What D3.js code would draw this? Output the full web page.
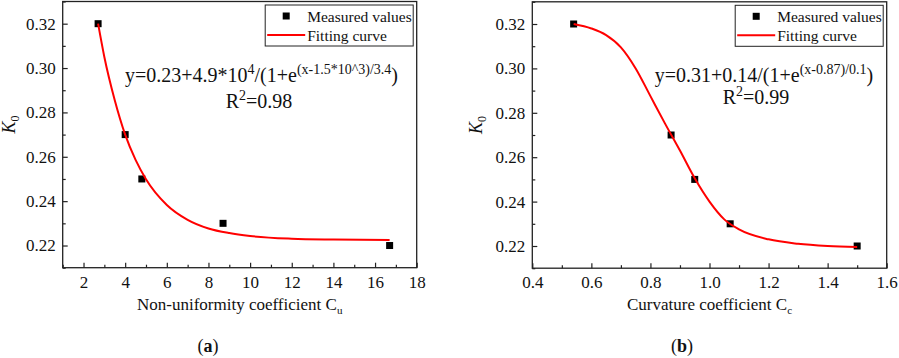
<!DOCTYPE html>
<html>
<head>
<meta charset="utf-8">
<script src="https://cdn.jsdelivr.net/npm/d3@7"></script>
<style>
  body { margin: 0; background: #fff; }
  svg text { font-family: "Times New Roman", "Liberation Serif", "DejaVu Serif", serif; }
  .axis path.domain { display: none; }
  .axis line { stroke: #222; stroke-width: 1.2; }
  .axis text { font-size: 17px; fill: #111; }
</style>
</head>
<body>
<div id="chart"></div>
<script>
// panel (a): K0 vs non-uniformity coefficient Cu
var cuValues = [2.7, 4.0, 4.8, 8.7, 16.7];
var cuK0 = [0.32, 0.27, 0.25, 0.23, 0.22];
var cuFitX = [2.7, 3, 3.5, 4, 4.5, 5, 6, 7, 8, 9, 10, 12, 14, 16.7];
var cuFitY = [0.32, 0.305, 0.2855, 0.27, 0.2586, 0.2499, 0.2383, 0.2316, 0.2277, 0.2256, 0.2243, 0.2231, 0.2227, 0.2225];
var cuTicks = [2, 4, 6, 8, 10, 12, 14, 16, 18];

// panel (b): K0 vs curvature coefficient Cc
var ccValues = [0.54, 0.87, 0.95, 1.07, 1.50];
var ccK0 = [0.32, 0.27, 0.25, 0.23, 0.22];
var ccFitX = [0.54, 0.6, 0.65, 0.7, 0.75, 0.8, 0.85, 0.9, 0.95, 1.0, 1.05, 1.1, 1.2, 1.3, 1.4, 1.5];
var ccFitY = [0.32, 0.318, 0.315, 0.3095, 0.3, 0.2875, 0.275, 0.263, 0.2505, 0.24, 0.232, 0.2275, 0.223, 0.221, 0.22, 0.2195];
var ccTicks = [0.4, 0.6, 0.8, 1.0, 1.2, 1.4, 1.6];

var k0Ticks = [0.22, 0.24, 0.26, 0.28, 0.30, 0.32];
var legendLabels = ["Measured values", "Fitting curve"];

var w = 899, h = 358;
var serif = "Times New Roman, Liberation Serif, DejaVu Serif, serif";

var svg = d3.select("#chart")
  .append("svg")
  .attr("width", w)
  .attr("height", h)
  .style("display", "block");

function panel(opt) {
  var xScale = d3.scaleLinear().domain(opt.xDomain).range([opt.left, opt.right]);
  var yScale = d3.scaleLinear().domain([0.21, 0.33]).range([opt.bottom, opt.top]);
  var g = svg.append("g");

  // minor ticks
  var xMinor = [];
  for (var i = 0; i < opt.xTicks.length - 1; i++) xMinor.push((opt.xTicks[i] + opt.xTicks[i + 1]) / 2);
  xMinor.unshift(opt.xTicks[0] - (opt.xTicks[1] - opt.xTicks[0]) / 2);
  xMinor = xMinor.filter(function(v) { return v >= opt.xDomain[0] && v <= opt.xDomain[1]; });
  var yMinor = [0.21, 0.23, 0.25, 0.27, 0.29, 0.31, 0.33];

  g.append("g")
    .attr("class", "axis")
    .attr("transform", "translate(0," + opt.bottom + ")")
    .call(d3.axisBottom(xScale).tickValues(xMinor).tickSize(-3).tickFormat(""));
  g.append("g")
    .attr("class", "axis")
    .attr("transform", "translate(" + opt.left + ",0)")
    .call(d3.axisLeft(yScale).tickValues(yMinor).tickSize(-3).tickFormat(""));

  g.append("g")
    .attr("class", "axis")
    .attr("transform", "translate(0," + opt.bottom + ")")
    .call(d3.axisBottom(xScale).tickValues(opt.xTicks).tickSize(-5).tickPadding(8).tickFormat(opt.xFormat))
    .attr("font-family", serif);
  g.append("g")
    .attr("class", "axis")
    .attr("transform", "translate(" + opt.left + ",0)")
    .call(d3.axisLeft(yScale).tickValues(k0Ticks).tickSize(-5).tickPadding(7).tickFormat(d3.format(".2f")))
    .attr("font-family", serif);

  // frame
  g.append("rect")
    .attr("x", opt.left)
    .attr("y", opt.top)
    .attr("width", opt.right - opt.left)
    .attr("height", opt.bottom - opt.top)
    .attr("fill", "none")
    .attr("stroke", "#222")
    .attr("stroke-width", 1.3);

  // points
  g.selectAll("rect.pt")
    .data(opt.xs)
    .enter()
    .append("rect")
    .attr("class", "pt")
    .attr("x", function(d) { return xScale(d) - 3.5; })
    .attr("y", function(d, i) { return yScale(opt.ys[i]) - 3.5; })
    .attr("width", 7)
    .attr("height", 7)
    .attr("fill", "#000");

  // fitting curve
  var line = d3.line()
    .x(function(d) { return xScale(d); })
    .y(function(d, i) { return yScale(opt.fitY[i]); })
    .curve(d3.curveMonotoneX);
  g.append("path")
    .datum(opt.fitX)
    .attr("d", line)
    .attr("fill", "none")
    .attr("stroke", "#f00")
    .attr("stroke-width", 2);

  // legend
  var lx = opt.right - 3.5 - 148, ly = opt.top + 3.5;
  g.append("rect")
    .attr("x", lx).attr("y", ly)
    .attr("width", 148).attr("height", 41)
    .attr("fill", "#fff")
    .attr("stroke", "#222")
    .attr("stroke-width", 1);
  g.append("rect")
    .attr("x", lx + 21 - 3.5).attr("y", ly + 11 - 3.5)
    .attr("width", 7).attr("height", 7)
    .attr("fill", "#000");
  g.append("line")
    .attr("x1", lx + 2).attr("x2", lx + 40)
    .attr("y1", ly + 30).attr("y2", ly + 30)
    .attr("stroke", "#f00")
    .attr("stroke-width", 2);
  g.selectAll("text.leg")
    .data(legendLabels)
    .enter()
    .append("text")
    .attr("class", "leg")
    .attr("x", lx + 42)
    .attr("y", function(d, i) { return ly + 16.5 + i * 19; })
    .attr("font-size", 15.5)
    .attr("fill", "#111")
    .text(function(d) { return d; });

  // equation
  var eq = g.append("text")
    .attr("x", opt.eqX)
    .attr("y", opt.eqY)
    .attr("text-anchor", "middle")
    .attr("font-size", 20)
    .attr("fill", "#111");
  opt.eqParts.forEach(function(p) {
    var t = eq.append("tspan").text(p[0]);
    if (p[1]) t.attr("font-size", 14).attr("dy", -8);
    else t.attr("dy", p[2] ? 8 : 0);
  });
  var r2 = g.append("text")
    .attr("x", opt.r2X)
    .attr("y", opt.r2Y)
    .attr("text-anchor", "middle")
    .attr("font-size", 20)
    .attr("fill", "#111");
  r2.append("tspan").text("R");
  r2.append("tspan").text("2").attr("font-size", 14).attr("dy", -8);
  r2.append("tspan").text("=" + opt.r2).attr("dy", 8);

  // y-axis label
  var yl = g.append("text")
    .attr("transform", "translate(" + opt.yLabelX + "," + ((opt.top + opt.bottom) / 2 - 10) + ") rotate(-90)")
    .attr("text-anchor", "middle")
    .attr("font-size", 18)
    .attr("fill", "#111");
  yl.append("tspan").attr("font-style", "italic").text("K");
  yl.append("tspan").attr("font-size", 12).attr("dy", 4).text("0");

  // x-axis label
  var xl = g.append("text")
    .attr("x", (opt.left + opt.right) / 2)
    .attr("y", 310)
    .attr("text-anchor", "middle")
    .attr("font-size", 17)
    .attr("fill", "#111");
  xl.append("tspan").text(opt.xLabel);
  xl.append("tspan").attr("font-size", 11).attr("dy", 4).text(opt.xSub);

  // panel tag
  var tag = g.append("text")
    .attr("x", opt.tagX)
    .attr("y", 352)
    .attr("text-anchor", "middle")
    .attr("font-size", 18)
    .attr("fill", "#111");
  tag.append("tspan").text("(");
  tag.append("tspan").attr("font-weight", "bold").text(opt.tag);
  tag.append("tspan").text(")");
}

panel({
  left: 62.7, right: 416.7, top: 1.5, bottom: 267.7,
  xDomain: [1, 18], xTicks: cuTicks, xFormat: d3.format("d"),
  xs: cuValues, ys: cuK0, fitX: cuFitX, fitY: cuFitY,
  eqX: 261.5, eqY: 82,
  eqParts: [["y=0.23+4.9*10"], ["4", true], ["/(1+e", false, true], ["(x-1.5*10^3)/3.4", true], [")", false, true]],
  r2X: 259, r2Y: 108, r2: "0.98",
  yLabelX: 15,
  xLabel: "Non-uniformity coefficient C", xSub: "u",
  tagX: 208, tag: "a"
});

panel({
  left: 532.3, right: 886.7, top: 1.8, bottom: 268.2,
  xDomain: [0.4, 1.6], xTicks: ccTicks, xFormat: d3.format(".1f"),
  xs: ccValues, ys: ccK0, fitX: ccFitX, fitY: ccFitY,
  eqX: 764, eqY: 81.5,
  eqParts: [["y=0.31+0.14/(1+e"], ["(x-0.87)/0.1", true], [")", false, true]],
  r2X: 756, r2Y: 104, r2: "0.99",
  yLabelX: 482,
  xLabel: "Curvature coefficient C", xSub: "c",
  tagX: 682, tag: "b"
});
</script>
</body>
</html>
